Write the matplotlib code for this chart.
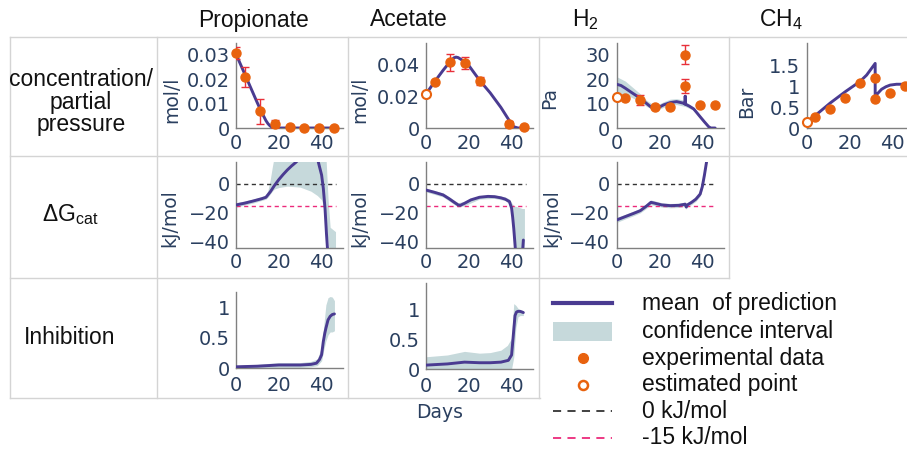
import matplotlib
matplotlib.use('Agg')
import matplotlib.pyplot as plt
from matplotlib.patches import Rectangle

plt.rcParams['mathtext.fontset'] = 'custom'
plt.rcParams['mathtext.rm'] = 'Liberation Sans'
plt.rcParams['mathtext.it'] = 'Liberation Sans:italic'

W, H = 907, 453

# ---------------- data ----------------
col_titles = ['Propionate', 'Acetate', r'H$_\mathrm{2}$', r'CH$_\mathrm{4}$']
row_titles = ['concentration/\npartial\npressure', r'ΔG$_\mathrm{cat}$', 'Inhibition']
x_ticks = [0, 20, 40]

# experimental data
prop_days = [0, 4, 11, 18, 25, 32, 39, 46]
prop_conc = [0.0307, 0.0209, 0.0068, 0.0016, 0.0003, 0.0001, 0.0001, 0.0001]
prop_err = [0.0024, 0.004, 0.005, 0.0015, 0, 0, 0, 0]

ac_days = [4, 11, 18, 25, 39, 46]
ac_conc = [0.0293, 0.0416, 0.0408, 0.0298, 0.0025, 0.0004]
ac_err = [0.001, 0.0054, 0.0038, 0.0025, 0.002, 0]
ac_est_day, ac_est_val = [0], [0.0215]

h2_days = [4, 11, 18, 25, 32, 32, 39, 46]
h2_vals = [12.4, 11.5, 8.5, 8.7, 29.9, 17.2, 9.4, 9.4]
h2_err = [0, 2.0, 0, 0, 3.9, 2.9, 0, 0]
h2_est_day, h2_est_val = [0], [12.8]

ch4_days = [4, 11, 18, 25, 32, 32, 39, 46]
ch4_vals = [0.26, 0.46, 0.73, 1.07, 1.19, 0.69, 0.85, 1.01]
ch4_est_day, ch4_est_val = [0], [0.15]

# model predictions (mean) and confidence bands
prop_m_days = [0, 2, 4, 6, 8, 10, 12, 14, 15, 16, 17, 18, 20, 30, 46]
prop_m_vals = [0.0302, 0.0262, 0.0222, 0.0182, 0.0142, 0.0102, 0.0064, 0.0030, 0.0017, 0.0008, 0.0003, 0.0001, 0, 0, 0]
prop_b_lo = [0.0296, 0.0256, 0.0216, 0.0176, 0.0136, 0.0096, 0.0058, 0.0025, 0.0013, 0.0005, 0.0001, 0, 0, 0, 0]
prop_b_hi = [0.0308, 0.0268, 0.0228, 0.0188, 0.0148, 0.0108, 0.0070, 0.0035, 0.0021, 0.0011, 0.0005, 0.0002, 0.0001, 0.0001, 0.0001]

ac_m_days = [0, 4, 8, 11, 13, 14, 15, 17, 20, 25, 30, 35, 39, 41, 43, 46]
ac_m_vals = [0.0215, 0.0292, 0.0365, 0.0415, 0.0443, 0.0448, 0.0445, 0.0428, 0.0395, 0.0302, 0.0222, 0.0130, 0.0045, 0.0008, 0.0, 0.0]
ac_b_lo = [0.0210, 0.0286, 0.0358, 0.0408, 0.0436, 0.0441, 0.0438, 0.0421, 0.0388, 0.0295, 0.0215, 0.0124, 0.0040, 0.0005, 0.0, 0.0]
ac_b_hi = [0.0220, 0.0298, 0.0372, 0.0422, 0.0450, 0.0455, 0.0452, 0.0435, 0.0402, 0.0309, 0.0229, 0.0136, 0.0050, 0.0011, 0.0002, 0.0002]

h2_m_days = [0, 2, 4, 7, 11, 14, 16, 18, 20, 22, 25, 28, 31, 32, 32, 32, 34, 36, 39, 41, 43, 44, 46]
h2_m_vals = [17.9, 17.4, 16.3, 14.5, 12.2, 10.0, 8.6, 7.9, 8.6, 9.5, 10.4, 10.8, 10.2, 9.8, 13.0, 9.8, 8.9, 7.8, 4.6, 2.5, 0.5, 0, 0]
h2_b_days = [0, 4, 11, 14, 18, 22, 25, 28, 31, 32, 36, 39, 43, 44, 46]
h2_b_lo = [14.5, 13.8, 10.8, 8.8, 7.0, 8.5, 9.2, 9.6, 9.0, 8.8, 7.2, 4.2, 0.3, 0, 0]
h2_b_hi = [21.0, 19.2, 14.0, 11.3, 9.0, 10.8, 11.8, 12.0, 11.5, 11.0, 8.4, 5.0, 0.7, 0.1, 0.1]

ch4_m_days = [0, 4, 11, 18, 25, 28, 32, 32, 33, 35, 37, 39, 42, 46, 52]
ch4_m_vals = [0.15, 0.30, 0.60, 0.87, 1.12, 1.27, 1.55, 0.75, 0.82, 0.93, 0.99, 1.03, 1.05, 1.05, 1.05]

dg_prop_days = [0, 4, 8, 12, 14, 16, 18, 20, 22, 24, 26, 28, 30, 38, 39, 40, 40.8, 41.6, 42.3, 43, 44]
dg_prop_vals = [-14.5, -13.3, -11.8, -10.2, -9.2, -5.5, -1.0, 3.0, 6.5, 9.7, 12.5, 15.0, 18, 18, 12, 6.2, -3, -17, -35, -50, -60]
dg_prop_b_days = [0, 8, 14, 15, 16, 17, 18, 20, 24, 30, 35, 38, 40, 41, 42, 43, 44, 46.5]
dg_prop_b_lo = [-16, -13.2, -10.5, -9, -7, -5, -3.5, -2.5, -1.5, -2.2, -5, -8, -11, -16, -26, -40, -50, -50]
dg_prop_b_hi = [-13, -10.5, -8, -4, 3, 12, 20, 30, 30, 30, 30, 30, 30, 30, 20, -10, -30, -33]

dg_ac_days = [0, 4, 8, 11, 13, 15, 16, 18, 21, 25, 29, 32, 35, 37, 39, 40, 40.5, 41, 41.5, 42, 43, 44, 45.5]
dg_ac_vals = [-4.2, -5.8, -7.6, -10.4, -12.5, -14.5, -14.8, -13.4, -11.0, -9.2, -8.6, -8.8, -9.6, -10.5, -12.2, -16.8, -23, -30.7, -40, -50, -70, -70, -38.8]
dg_ac_b_days = [0, 8, 15, 18, 25, 32, 37, 39, 40, 41, 43, 45, 46]
dg_ac_b_lo = [-5.5, -9, -16, -15, -10.5, -10, -11.5, -14, -20, -45, -60, -60, -60]
dg_ac_b_hi = [-3, -6.2, -13, -12, -8, -7.6, -9, -10.5, -13, -15, -16, -17, -17]

dg_h2_days = [0, 4, 8, 11, 14, 16, 18, 21, 25, 29, 32, 32.5, 33, 35, 37, 39, 40, 41, 42, 43]
dg_h2_vals = [-24.9, -22.6, -20.3, -18.5, -15.2, -12.7, -13.4, -14.5, -15.0, -14.8, -14.0, -16.0, -14.5, -12.7, -10.5, -7.0, -1.9, 6.2, 15.4, 25]
dg_h2_b_lo = [-26.6, -24.2, -21.9, -20.0, -16.8, -14.3, -15.0, -16.0, -16.5, -16.3, -15.5, -17.5, -16.0, -14.2, -12.0, -8.5, -3.4, 4.7, 13.9, 23.5]
dg_h2_b_hi = [-23.2, -21.0, -18.7, -17.0, -13.6, -11.1, -11.8, -13.0, -13.5, -13.3, -12.5, -14.5, -13.0, -11.2, -9.0, -5.5, -0.4, 7.7, 16.9, 26.5]

dg_thresholds = [0, -15]
dg_threshold_end = 46.5

inh_prop_days = [0, 10, 20, 30, 35, 37.6, 39, 40, 40.8, 41.5, 42, 43, 44, 45, 46]
inh_prop_vals = [0.02, 0.03, 0.05, 0.05, 0.06, 0.08, 0.14, 0.22, 0.44, 0.58, 0.66, 0.80, 0.86, 0.89, 0.90]
inh_prop_b_days = [0, 10, 20, 30, 35, 38, 40, 41, 42, 43, 44, 45, 46]
inh_prop_b_lo = [0.0, 0.0, 0.01, 0.01, 0.02, 0.04, 0.12, 0.30, 0.45, 0.55, 0.60, 0.60, 0.62]
inh_prop_b_hi = [0.04, 0.06, 0.09, 0.09, 0.11, 0.15, 0.35, 0.70, 1.05, 1.17, 1.19, 1.18, 1.12]

inh_ac_days = [0, 10, 18, 25, 30, 35, 38.5, 40, 40.8, 41.6, 42.3, 43, 44, 45.5]
inh_ac_vals = [0.07, 0.09, 0.12, 0.11, 0.11, 0.12, 0.15, 0.24, 0.57, 0.90, 0.96, 0.97, 0.97, 0.95]
inh_ac_b_days = [0, 10, 18, 25, 30, 35, 38, 40, 41, 42, 43, 44, 45.5]
inh_ac_b_lo = [0.0, 0.0, 0.0, 0.0, 0.0, 0.0, 0.0, 0.01, 0.2, 0.7, 0.88, 0.90, 0.90]
inh_ac_b_hi = [0.21, 0.24, 0.30, 0.27, 0.28, 0.32, 0.40, 0.52, 1.10, 1.07, 1.02, 1.00, 0.98]

legend_labels = ['mean  of prediction', 'confidence interval', 'experimental data',
                 'estimated point', '0 kJ/mol', '-15 kJ/mol']

# ---------------- style ----------------
C_MEAN = '#4a3b91'
C_BAND = '#c6d9db'
C_PT = '#e8620e'
C_ERR = '#e8303a'
C_ZERO = '#333333'
C_M15 = '#ec2a7b'
C_TICK = '#2a3f5f'
C_SPINE = '#808080'
C_GRID = '#d4d4d4'
TICK_FONT = 'DejaVu Sans'
TEXT_FONT = 'Liberation Sans'

fig = plt.figure(figsize=(W / 100, H / 100), dpi=100)

ov = fig.add_axes([0, 0, 1, 1])
ov.set_xlim(0, W)
ov.set_ylim(H, 0)
ov.axis('off')

# table grid
for (y, x0, x1) in [(37, 10, 907), (156, 10, 907), (278, 10, 729), (398, 10, 540)]:
    ov.plot([x0, x1], [y, y], color=C_GRID, lw=1)
for (x, y0, y1) in [(10, 37, 398), (157, 37, 398), (348, 37, 398), (539, 37, 398), (729, 37, 278)]:
    ov.plot([x, x], [y0, y1], color=C_GRID, lw=1)

PXD = 2.14  # px per day
XMAX = 50


def add_ax(x0, ytop, ybot, ylim, yticks, ylabels, xpad=4.5):
    ax = fig.add_axes([x0 / W, 1 - ybot / H, PXD * XMAX / W, (ybot - ytop) / H])
    ax.set_xlim(0, XMAX)
    ax.set_ylim(*ylim)
    for s in ['top', 'right']:
        ax.spines[s].set_visible(False)
    for s in ['left', 'bottom']:
        ax.spines[s].set_color(C_SPINE)
        ax.spines[s].set_linewidth(1)
    ax.set_xticks(x_ticks)
    ax.set_xticklabels([str(t) for t in x_ticks])
    ax.set_yticks(yticks)
    ax.set_yticklabels(ylabels)
    ax.tick_params(length=0, labelsize=14, labelcolor=C_TICK)
    ax.tick_params(axis='x', pad=xpad)
    ax.tick_params(axis='y', pad=4.5)
    for lab in ax.get_xticklabels() + ax.get_yticklabels():
        lab.set_fontfamily(TICK_FONT)
    ax.patch.set_alpha(0)
    return ax


def band(ax, d, lo, hi):
    ax.fill_between(d, lo, hi, color=C_BAND, lw=0, zorder=1)


def mean(ax, d, v):
    ax.plot(d, v, color=C_MEAN, lw=2.1, zorder=3, solid_capstyle='round')


def points(ax, d, v, err=None):
    if err is not None:
        ax.errorbar(d, v, yerr=err, fmt='none', ecolor=C_ERR, elinewidth=1, capsize=3, capthick=1, zorder=4)
    ax.plot(d, v, 'o', color=C_PT, ms=6.5, mec=C_PT, zorder=5, clip_on=False)


def est(ax, d, v):
    ax.plot(d, v, 'o', mfc='white', mec=C_PT, mew=1.5, ms=6.5, zorder=6, clip_on=False)


def thresholds(ax):
    ax.plot([0, dg_threshold_end], [dg_thresholds[0]] * 2, color=C_ZERO, lw=1, dashes=(3, 2.5), zorder=2)
    ax.plot([0, dg_threshold_end], [dg_thresholds[1]] * 2, color=C_M15, lw=1, dashes=(3, 2.5), zorder=2)


# Row 1
a = add_ax(236, 43, 128, (0, 0.0347), [0, 0.01, 0.02, 0.03], ['0', '0.01', '0.02', '0.03'])
band(a, prop_m_days, prop_b_lo, prop_b_hi)
mean(a, prop_m_days, prop_m_vals)
points(a, prop_days, prop_conc, prop_err)

a = add_ax(426, 43, 128, (0, 0.0537), [0, 0.02, 0.04], ['0', '0.02', '0.04'])
band(a, ac_m_days, ac_b_lo, ac_b_hi)
mean(a, ac_m_days, ac_m_vals)
points(a, ac_days, ac_conc, ac_err)
est(a, ac_est_day, ac_est_val)

a = add_ax(616.7, 43, 128, (0, 34.8), [0, 10, 20, 30], ['0', '10', '20', '30'])
band(a, h2_b_days, h2_b_lo, h2_b_hi)
mean(a, h2_m_days, h2_m_vals)
points(a, h2_days, h2_vals, h2_err)
est(a, h2_est_day, h2_est_val)

a = add_ax(806.7, 43, 128, (0, 2.04), [0, 0.5, 1, 1.5], ['0', '0.5', '1', '1.5'])
mean(a, ch4_m_days, ch4_m_vals)
points(a, ch4_days, ch4_vals)
est(a, ch4_est_day, ch4_est_val)

# Row 2
dg_ylim = (-44.1, 15.4)
dg_ticks = [-40, -20, 0]
dg_labels = ['\u221240', '\u221220', '0']
a = add_ax(236, 161.7, 247.7, dg_ylim, dg_ticks, dg_labels, xpad=3.5)
band(a, dg_prop_b_days, dg_prop_b_lo, dg_prop_b_hi)
thresholds(a)
mean(a, dg_prop_days, dg_prop_vals)

a = add_ax(426, 161.7, 247.7, dg_ylim, dg_ticks, dg_labels, xpad=3.5)
band(a, dg_ac_b_days, dg_ac_b_lo, dg_ac_b_hi)
thresholds(a)
mean(a, dg_ac_days, dg_ac_vals)

a = add_ax(616.7, 161.7, 247.7, dg_ylim, dg_ticks, dg_labels, xpad=3.5)
band(a, dg_h2_days, dg_h2_b_lo, dg_h2_b_hi)
thresholds(a)
mean(a, dg_h2_days, dg_h2_vals)

# Row 3
a = add_ax(236, 292.3, 368, (0, 1.26), [0, 0.5, 1], ['0', '0.5', '1'], xpad=5.5)
band(a, inh_prop_b_days, inh_prop_b_lo, inh_prop_b_hi)
mean(a, inh_prop_days, inh_prop_vals)

a = add_ax(426, 283.3, 369.3, (0, 1.44), [0, 0.5, 1], ['0', '0.5', '1'], xpad=5.5)
band(a, inh_ac_b_days, inh_ac_b_lo, inh_ac_b_hi)
mean(a, inh_ac_days, inh_ac_vals)

# axis titles
for (x, y, s) in [(171.7, 100, 'mol/l'), (360, 100, 'mol/l'), (550, 98, 'Pa'), (746.7, 101.7, 'Bar'),
                  (170, 218, 'kJ/mol'), (360, 218, 'kJ/mol'), (552, 218, 'kJ/mol')]:
    ov.text(x, y, s, rotation=90, ha='center', va='center', fontsize=13.5, color=C_TICK, family=TICK_FONT)
ov.text(440, 413, 'Days', ha='center', va='center', fontsize=13.5, color=C_TICK, family=TICK_FONT)

# column headers
for x, s in zip([254, 409, 585, 781], col_titles):
    ov.text(x, 20, s, ha='center', va='center', fontsize=16.5, color='#111111', family=TEXT_FONT)

# row headers
ov.text(81, 102, row_titles[0], ha='center', va='center', fontsize=16.5, color='#111111',
        family=TEXT_FONT, linespacing=1.0)
ov.text(70, 215, row_titles[1], ha='center', va='center', fontsize=16.5, color='#111111', family=TEXT_FONT)
ov.text(70, 338, row_titles[2], ha='center', va='center', fontsize=16.5, color='#111111', family=TEXT_FONT)

# legend
ly = [303.3, 331.7, 358.3, 385, 411, 437.5]
hx0, hx1, hxc, tx = 553, 612, 583.3, 641.7
ov.plot([hx0, hx1], [ly[0], ly[0]], color=C_MEAN, lw=3)
ov.add_patch(Rectangle((hx0, ly[1] - 9.3), hx1 - hx0, 18.6, color=C_BAND, lw=0))
ov.plot([hxc], [ly[2]], 'o', color=C_PT, ms=7)
ov.plot([hxc], [ly[3]], 'o', mfc='white', mec=C_PT, mew=1.8, ms=6.5)
ov.plot([hx0, hx1], [ly[4], ly[4]], color=C_ZERO, lw=1.3, dashes=(4.5, 3.5))
ov.plot([hx0, hx1], [ly[5], ly[5]], color=C_M15, lw=1.3, dashes=(4.5, 3.5))
for y, s in zip(ly, legend_labels):
    ov.text(tx, y, s, ha='left', va='center', fontsize=16.5, color='#111111', family=TEXT_FONT)

fig.savefig('out.png', dpi=100)
